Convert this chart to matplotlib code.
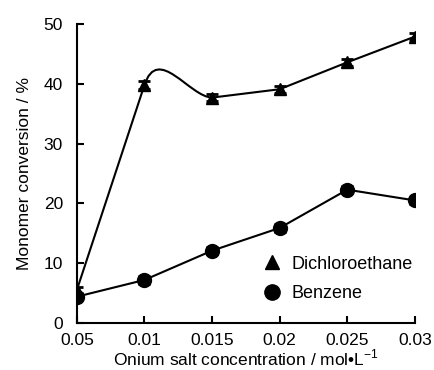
import matplotlib.pyplot as plt
import numpy as np
from matplotlib.path import Path
from matplotlib.patches import PathPatch
from matplotlib.lines import Line2D

plt.rcParams['font.family'] = ['Liberation Sans', 'DejaVu Sans']
plt.rcParams['mathtext.fontset'] = 'custom'
plt.rcParams['mathtext.rm'] = 'Liberation Sans'

conc_labels = ['0.05', '0.01', '0.015', '0.02', '0.025', '0.03']
dichloroethane = [5.5, 39.8, 37.7, 39.1, 43.6, 47.9]
dichloro_err = [0.6, 0.6, 0.6, 0.6, 0.6, 0.6]
benzene = [4.4, 7.2, 12.1, 15.9, 22.3, 20.5]
benzene_err = [0.6, 0.6, 0.6, 0.6, 0.6, 0.6]
# segments of the dichloroethane line drawn smoothed (the rest are straight)
smoothed = [1]


def line_path(xs, ys, smooth_idx):
    pts = np.column_stack([xs, ys]).astype(float)
    n = len(pts)
    verts = [pts[0]]
    codes = [Path.MOVETO]
    for i in range(n - 1):
        p1, p2 = pts[i], pts[i + 1]
        if i in smooth_idx:
            p0 = pts[max(i - 1, 0)]
            p3 = pts[min(i + 2, n - 1)]
            # leave the point along the incoming segment, overshooting a bit
            c1 = p1 + (p1 - p0) * 0.2
            c2 = p2 - (p3 - p1) / 6
            verts += [c1, c2, p2]
            codes += [Path.CURVE4] * 3
        else:
            verts.append(p2)
            codes.append(Path.LINETO)
    return Path(verts, codes)


fig = plt.figure(figsize=(4.34, 3.70), dpi=100)
ax = fig.add_axes([0.177, 0.127, 0.779, 0.808])

x = np.arange(len(conc_labels))

ax.add_patch(PathPatch(line_path(x, dichloroethane, smoothed), fill=False, lw=1.5, color='black'))
ax.errorbar(x, dichloroethane, yerr=dichloro_err, fmt='^', ms=9, color='black',
            capsize=4.5, elinewidth=1.2, capthick=2)
ax.errorbar(x, benzene, yerr=benzene_err, fmt='o-', ms=10, color='black', lw=1.5,
            capsize=4.5, elinewidth=1.2, capthick=2)

ax.set_xlim(0, 5)
ax.set_ylim(0, 50)
ax.set_xticks(x)
ax.set_xticklabels(conc_labels)
ax.set_yticks([0, 10, 20, 30, 40, 50])
ax.tick_params(direction='in', length=5, width=1.5, labelsize=12.5)
ax.tick_params(axis='y', pad=10)
ax.tick_params(axis='x', pad=7)
for s in ['top', 'right']:
    ax.spines[s].set_visible(False)
for s in ['left', 'bottom']:
    ax.spines[s].set_linewidth(1.5)

ax.set_xlabel('Onium salt concentration / mol•L$^{-1}$', fontsize=12.5, labelpad=0)
ax.set_ylabel('Monomer conversion / %', fontsize=12.5, labelpad=8)

handles = [Line2D([], [], ls='none', marker='^', ms=10, color='black'),
           Line2D([], [], ls='none', marker='o', ms=11, color='black')]
ax.legend(handles, ['Dichloroethane', 'Benzene'], loc='upper left', bbox_to_anchor=(0.55, 0.225),
          frameon=False, borderpad=0, borderaxespad=0,
          fontsize=13, handlelength=1, handletextpad=0.6, labelspacing=0.7)

plt.savefig('out.png', dpi=100)
plt.close()
